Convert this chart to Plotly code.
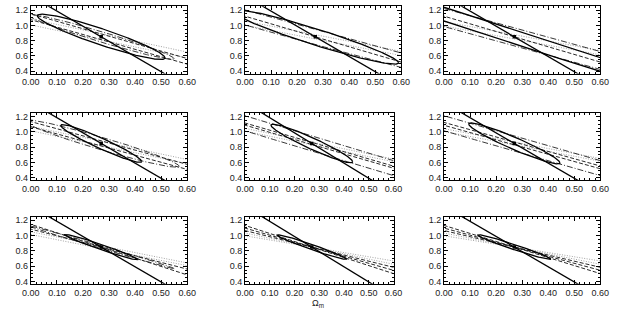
import numpy as np
import plotly.graph_objects as go

# ---------------- data ----------------
fid_x = 0.27
fid_y = 0.85
deg_slope = -1.98          # steep solid degeneracy line through fiducial

x_range = [0.0, 0.6]
y_range = [0.37, 1.25]
x_ticks = [0.0, 0.1, 0.2, 0.3, 0.4, 0.5, 0.6]
x_ticklabels = ["0.00", "0.10", "0.20", "0.30", "0.40", "0.50", "0.60"]
y_ticks = [0.4, 0.6, 0.8, 1.0, 1.2]
y_ticklabels = ["0.4", "0.6", "0.8", "1.0", "1.2"]

# contour ellipses: (half-length in x, slope of major axis, vertical half-width at centre)
# w == 0 -> degenerate single line
solid_contours = [
    [(0.245, -1.12, 0.11)], [(0.32, -1.06, 0.11)], [(3.0, -1.10, 0.092)],
    [(0.155, -1.52, 0.075)], [(0.165, -1.45, 0.08)], [(0.175, -1.45, 0.085)],
    [(0.14, -1.16, 0.035)], [(0.14, -1.12, 0.035)], [(0.14, -1.12, 0.035)],
]
dashdot_contours = [
    [(0.28, -1.02, 0.07)], [(3.0, -0.94, 0.10)], [(3.0, -0.94, 0.12)],
    [(0.30, -1.00, 0.085)], [(3.0, -0.98, 0.10)], [(3.0, -0.98, 0.10)],
    [(0.28, -1.00, 0.02)], [], [],
]
dash_contours = [
    [(3.0, -0.97, 0.04)], [(3.0, -1.00, 0.0)], [(3.0, -1.00, 0.0)],
    [(3.0, -0.93, 0.035)], [(3.0, -0.94, 0.015)], [(3.0, -0.95, 0.02)],
    [(3.0, -1.10, 0.0), (3.0, -0.87, 0.0)],
    [(3.0, -1.05, 0.0), (3.0, -0.92, 0.0), (3.0, -0.80, 0.0)],
    [(3.0, -1.05, 0.0), (3.0, -0.92, 0.0), (3.0, -0.80, 0.0)],
]
dot_contours = [
    [(3.0, -0.72, 0.04)], [(3.0, -0.66, 0.03)], [(3.0, -0.63, 0.03)],
    [(3.0, -0.72, 0.03)], [(3.0, -0.67, 0.02)], [(3.0, -0.65, 0.02)],
    [(3.0, -0.68, 0.02)], [(3.0, -0.55, 0.0), (3.0, -0.68, 0.0)],
    [(3.0, -0.55, 0.0), (3.0, -0.68, 0.0)],
]

# ---------------- layout geometry (pixels of 621x312 page) ----------------
W, H = 621, 312
col_px_by_row = [
    [(22.5, 183.5), (243.0, 404.0), (448.0, 609.0)],
    [(22.5, 183.5), (243.0, 396.0), (448.0, 609.0)],
    [(22.5, 183.5), (243.0, 396.0), (448.0, 609.0)],
]
row_px = [(5.3, 73.5), (113.3, 181.5), (218.3, 286.5)]

styles = {
    "solid": dict(color="black", dash="solid", width=1.3),
    "dashdot": dict(color="#222222", dash="6px,2px,1px,2px", width=0.9),
    "dash": dict(color="#111111", dash="4px,2px", width=0.9),
    "dot": dict(color="#9a9a9a", dash="1px,1.5px", width=0.9),
}


def contour_xy(L, s, w, n=400):
    if w <= 0:
        xs = np.array([fid_x - L, fid_x + L])
        return xs, fid_y + s * (xs - fid_x)
    t = np.linspace(0, 2 * np.pi, n)
    xs = fid_x + L * np.cos(t)
    ys = fid_y + s * L * np.cos(t) + w * np.sin(t)
    return xs, ys


fig = go.Figure()
for i in range(9):
    r, c = divmod(i, 3)
    ax = "" if i == 0 else str(i + 1)
    xref, yref = "x" + ax, "y" + ax
    groups = [("dot", dot_contours[i]), ("dash", dash_contours[i]),
              ("dashdot", dashdot_contours[i]), ("solid", solid_contours[i])]
    for style, lst in groups:
        for (L, s, w) in lst:
            xs, ys = contour_xy(L, s, w)
            fig.add_trace(go.Scatter(x=xs, y=ys, mode="lines", line=styles[style],
                                     xaxis=xref, yaxis=yref, showlegend=False,
                                     hoverinfo="skip"))
    # degeneracy line
    lx = np.array([-0.5, 1.0])
    fig.add_trace(go.Scatter(x=lx, y=fid_y + deg_slope * (lx - fid_x), mode="lines",
                             line=styles["solid"], xaxis=xref, yaxis=yref,
                             showlegend=False, hoverinfo="skip"))
    fig.add_trace(go.Scatter(x=[fid_x], y=[fid_y], mode="markers",
                             marker=dict(symbol="square", size=3.5, color="black"),
                             xaxis=xref, yaxis=yref, showlegend=False, hoverinfo="skip"))

    x0, x1 = col_px_by_row[r][c]
    y0, y1 = row_px[r]
    common = dict(showline=True, linecolor="black", linewidth=1, mirror="allticks",
                  ticks="inside", ticklen=4, tickwidth=1, tickcolor="black",
                  showgrid=False, zeroline=False,
                  tickfont=dict(family="Liberation Sans, Arial", size=9, color="#222"))
    fig.layout["xaxis" + ax] = dict(
        domain=[x0 / W, x1 / W], range=x_range, anchor=yref,
        tickvals=x_ticks, ticktext=x_ticklabels,
        minor=dict(ticks="inside", ticklen=2, dtick=0.02, tickcolor="black"),
        **common)
    fig.layout["yaxis" + ax] = dict(
        domain=[1 - y1 / H, 1 - y0 / H], range=y_range, anchor=xref,
        tickvals=y_ticks, ticktext=y_ticklabels,
        minor=dict(ticks="inside", ticklen=2, dtick=0.05, tick0=0.4, tickcolor="black"),
        **common)

fig.add_annotation(text="Ω<sub>m</sub>", x=318 / W, y=1 - 299 / H, xref="paper", yref="paper",
                   xanchor="center", yanchor="top", showarrow=False,
                   font=dict(family="Liberation Sans, Arial", size=9, color="#222"))

fig.update_layout(width=W, height=H, margin=dict(l=0, r=0, t=0, b=0),
                  paper_bgcolor="white", plot_bgcolor="white")
fig.write_html("out.html")
